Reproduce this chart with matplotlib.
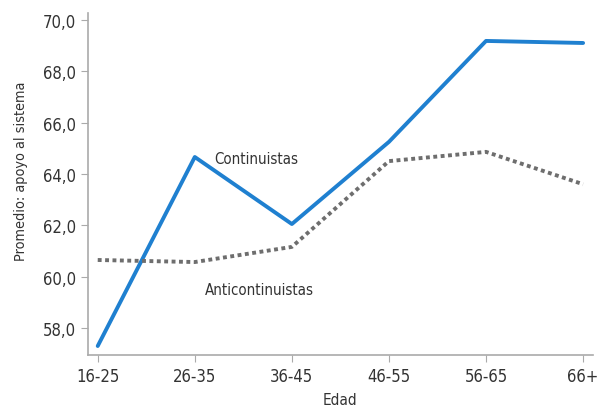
import matplotlib.pyplot as plt
from matplotlib.ticker import FuncFormatter

edades = ['16-25', '26-35', '36-45', '46-55', '56-65', '66+']
continuistas = [57.3, 64.66, 62.05, 65.25, 69.18, 69.1]
anticontinuistas = [60.65, 60.57, 61.16, 64.5, 64.86, 63.6]

plt.rcParams['font.family'] = ['DejaVu Sans']
plt.rcParams['font.stretch'] = 'condensed'

fig = plt.figure(figsize=(6, 4.1), dpi=100)
ax = fig.add_axes([0.1467, 0.1317, 0.8413, 0.8343])

x = range(len(edades))
ax.plot(x, continuistas, color='#1f80d0', linewidth=2.8, solid_capstyle='round')
ax.plot(x, anticontinuistas, color='#6e6e6e', linewidth=2.8, linestyle=(0, (1, 0.9)))

ax.text(1.2, 64.62, 'Continuistas', fontsize=10.8, color='#333333', va='center')
ax.text(1.1, 59.5, 'Anticontinuistas', fontsize=10.8, color='#333333', va='center')

ax.set_xlim(-0.1, 5.1)
ax.set_ylim(56.95, 70.27)
ax.set_yticks([58, 60, 62, 64, 66, 68, 70])
ax.yaxis.set_major_formatter(FuncFormatter(lambda v, p: f'{v:.1f}'.replace('.', ',')))
ax.set_xticks(list(x))
ax.set_xticklabels(edades)

for s in ['top', 'right']:
    ax.spines[s].set_visible(False)
for s in ['left', 'bottom']:
    ax.spines[s].set_color('#aaaaaa')
    ax.spines[s].set_linewidth(1.2)
ax.tick_params(colors='#aaaaaa', labelcolor='#333333', labelsize=12, length=5)

ax.set_xlabel('Edad', fontsize=11, color='#333333', labelpad=5)
ax.set_ylabel('Promedio: apoyo al sistema', fontsize=10.4, color='#333333')
ax.yaxis.set_label_coords(-0.118, 0.54)

plt.savefig('out.png', dpi=100)
